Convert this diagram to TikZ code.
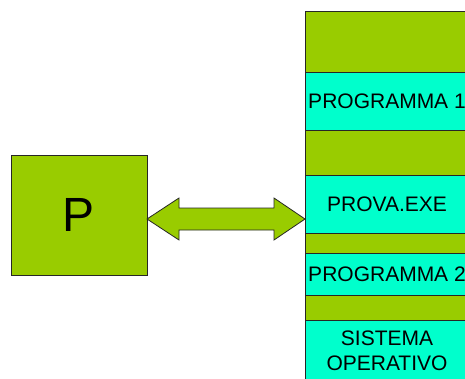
\documentclass[tikz,border=0pt]{standalone}
\usepackage{fontspec}
\setmainfont{Liberation Sans}
\usetikzlibrary{positioning,calc}
\definecolor{memgreen}{HTML}{99CC00}
\definecolor{memcyan}{HTML}{00FFCC}
\tikzset{
  seg/.style={draw=black!85, line width=0.8pt, minimum width=164pt, inner sep=0pt,
    outer sep=0pt, font=\fontsize{21}{25}\selectfont, align=center},
  free/.style={seg, fill=memgreen},
  used/.style={seg, fill=memcyan},
  conn/.style={draw=black!85, line width=0.8pt, fill=memgreen, line join=miter},
}
\begin{document}
\begin{tikzpicture}[x=1pt,y=-1pt]
   \useasboundingbox (0,0) rectangle (465,378);
   % memoria
   \node[free, minimum height=61pt, anchor=north] (top) at (387,11) {};
   \node[used, minimum height=58pt, below=0pt of top] (prog1) {PROGRAMMA 1};
   \node[free, minimum height=45pt, below=0pt of prog1] (gap1) {};
   \node[used, minimum height=58pt, below=0pt of gap1] (prova) {PROVA.EXE};
   \node[free, minimum height=20pt, below=0pt of prova] (gap2) {};
   \node[used, minimum height=42pt, below=0pt of gap2] (prog2) {PROGRAMMA 2};
   \node[free, minimum height=25pt, below=0pt of prog2] (gap3) {};
   \node[used, minimum height=62pt, below=0pt of gap3] (so) {SISTEMA\\OPERATIVO};
   % processore
   \node[draw=black!85, line width=0.8pt, fill=memgreen, minimum width=136pt,
     minimum height=120pt, inner sep=0pt, outer sep=0pt,
     font=\fontsize{48}{48}\selectfont] (p) at (79,215) {P};
   % freccia doppia
   \coordinate (al) at ($(p.east)+(0,4)$);
   \coordinate (ar) at (prova.west |- al);
   \draw[conn] (al) -- ++(32,-21) -- ++(0,10) -- ($(ar)+(-31,-11)$) -- ++(0,-10)
     -- (ar) -- ++(-31,21) -- ++(0,-10) -- ($(al)+(32,11)$) -- ++(0,10) -- cycle;
\end{tikzpicture}
\end{document}
